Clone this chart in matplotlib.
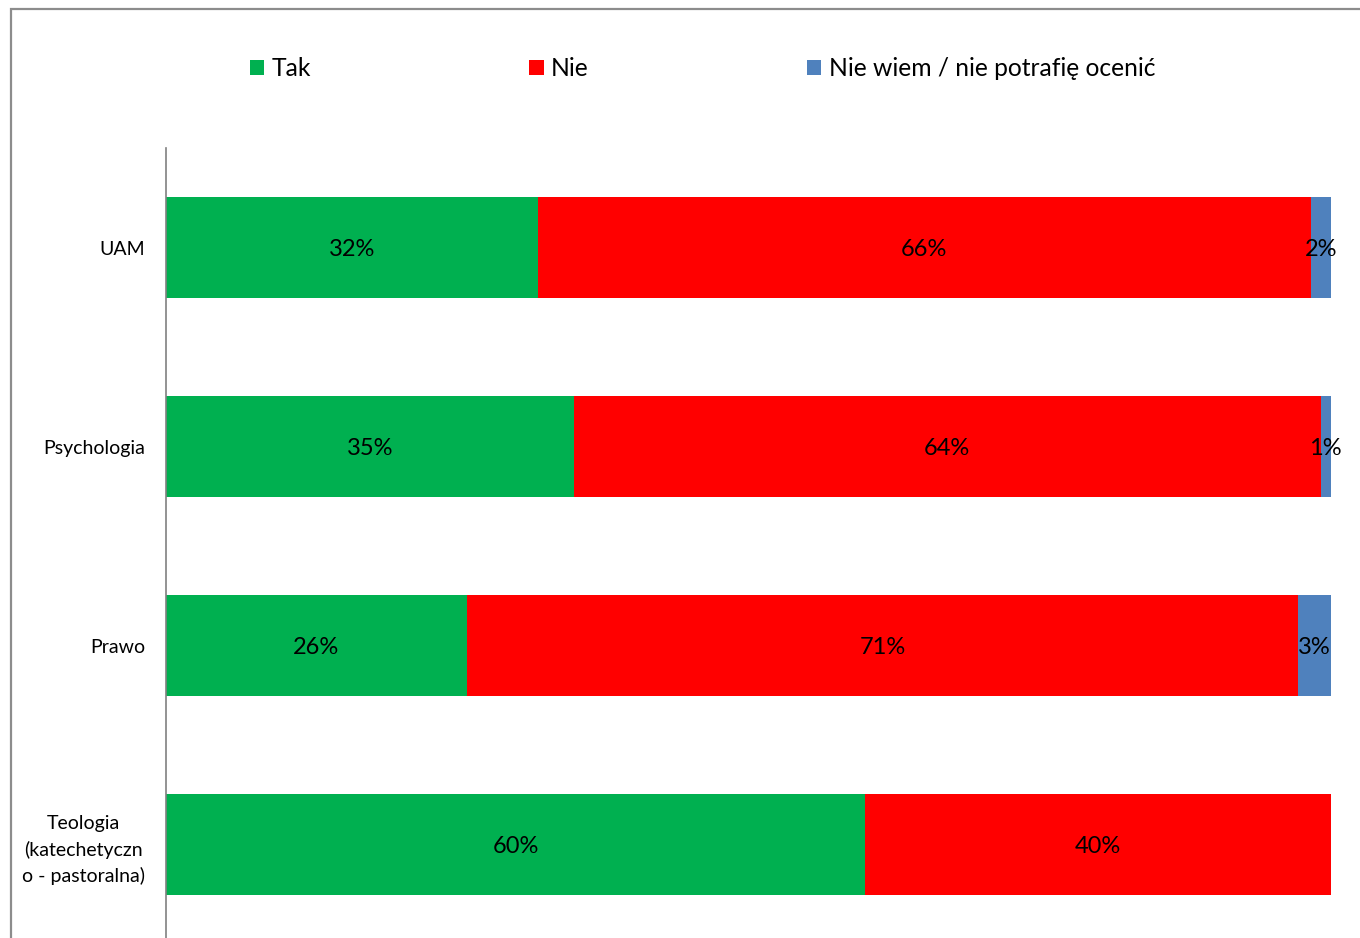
import matplotlib.pyplot as plt
from matplotlib.patches import Rectangle

plt.rcParams['font.family'] = ['Lato', 'DejaVu Sans']

categories = ['UAM', 'Psychologia', 'Prawo', 'Teologia\n(katechetyczn\no - pastoralna)']
series_names = ['Tak', 'Nie', 'Nie wiem / nie potrafię ocenić']
tak = [31.9, 35.0, 25.8, 60.0]
nie = [66.4, 64.1, 71.4, 40.0]
nie_wiem = [1.7, 0.9, 2.8, 0.0]
colors = ['#00B050', '#FF0000', '#4F81BD']

fig = plt.figure(figsize=(13.6, 9.38), dpi=100)
ax = fig.add_axes([166 / 1360, 1 - 944 / 938, 1165 / 1360, 796 / 938])

y = list(range(len(categories)))
left = [0.0] * len(categories)
for name, vals, col in zip(series_names, [tak, nie, nie_wiem], colors):
    bars = ax.barh(y, vals, left=left, height=0.51, color=col, label=name)
    for b, v in zip(bars, vals):
        if v > 0:
            ax.text(b.get_x() + b.get_width() / 2, b.get_y() + b.get_height() / 2 + 0.01,
                    f'{round(v)}%', ha='center', va='center', fontsize=17, color='black')
    left = [l + v for l, v in zip(left, vals)]

ax.set_xlim(0, 100)
ax.set_ylim(3.5, -0.5)
ax.set_yticks(y)
ax.set_yticklabels(categories, fontsize=14, multialignment='center', linespacing=1.55)
ax.tick_params(axis='y', length=0, pad=15)
ax.set_xticks([])
for s in ['top', 'right', 'bottom']:
    ax.spines[s].set_visible(False)
ax.spines['left'].set_color('#808080')
ax.spines['left'].set_linewidth(1.2)

fig.legend(loc='center left', bbox_to_anchor=(250 / 1360, 1 - 69 / 938), ncol=3,
           frameon=False, fontsize=17.75, handlelength=0.58, handleheight=0.58,
           handletextpad=0.3, columnspacing=8.85, borderpad=0, borderaxespad=0)

fig.add_artist(Rectangle((11 / 1360, -0.1), 1.2, 1.1 - 9 / 938, transform=fig.transFigure,
                         fill=False, edgecolor='#8c8c8c', linewidth=1.6, clip_on=False))

fig.savefig('out.png', dpi=100)
